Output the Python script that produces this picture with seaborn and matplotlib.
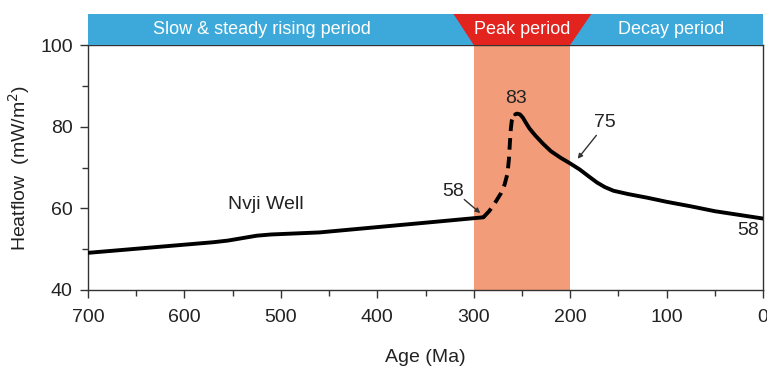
import matplotlib
matplotlib.use("Agg")
import matplotlib.pyplot as plt
import seaborn as sns
import pandas as pd
from matplotlib.patches import Rectangle, Polygon

# Data
early_age = [700, 640, 590, 570, 555, 540, 525, 510, 490, 460, 400, 340, 290]
early_hf = [49.1, 50.3, 51.3, 51.7, 52.1, 52.7, 53.3, 53.6, 53.8, 54.1, 55.4, 56.7, 57.8]
rise_age = [290, 284, 278, 272, 268, 265, 263.5, 262.5, 261.5, 260.5, 259, 257]
rise_hf = [57.8, 59.3, 61.3, 63.6, 65.8, 68.5, 72.0, 76.0, 79.5, 81.5, 82.6, 83.0]
decay_age = [257, 255, 252, 249, 246, 242, 236, 228, 220, 210, 200, 190, 180, 172, 164, 155,
             140, 120, 100, 75, 50, 25, 0]
decay_hf = [83.0, 83.2, 83.0, 82.2, 81.0, 79.5, 77.8, 75.8, 74.0, 72.4, 71.0, 69.5, 67.7, 66.3,
            65.2, 64.3, 63.5, 62.6, 61.6, 60.5, 59.3, 58.4, 57.5]

periods = ["Slow & steady rising period", "Peak period", "Decay period"]
peak_band = [300, 200]
xticks = [700, 600, 500, 400, 300, 200, 100, 0]
yticks = [40, 60, 80, 100]

sns.set_theme(style="ticks")
plt.rcParams['font.family'] = ['Liberation Sans', 'DejaVu Sans']

fig = plt.figure(figsize=(7.67, 3.67), dpi=100)
ax = fig.add_axes([88/767, 1-290/367, 675/767, 245/367])

df_e = pd.DataFrame({"age": early_age, "hf": early_hf})
df_r = pd.DataFrame({"age": rise_age, "hf": rise_hf})
df_d = pd.DataFrame({"age": decay_age, "hf": decay_hf})

ax.axvspan(peak_band[0], peak_band[1], color="#F29C79", lw=0, zorder=0)
line_kw = dict(color="black", lw=2.8, sort=False, zorder=3)
sns.lineplot(data=df_e, x="age", y="hf", ax=ax, **line_kw)
sns.lineplot(data=df_r, x="age", y="hf", ax=ax, dashes=False, linestyle=(0, (3.0, 1.8)), **line_kw)
sns.lineplot(data=df_d, x="age", y="hf", ax=ax, **line_kw)
for ln in ax.lines:
    ln.set_solid_capstyle("round")
    ln.set_solid_joinstyle("round")

ax.set_xlim(700, 0)
ax.set_ylim(40, 100)
ax.set_xticks(xticks)
ax.set_yticks(yticks)
ax.set_xticks([650, 550, 450, 350, 250, 150, 50], minor=True)
ax.set_yticks([50, 70, 90], minor=True)
ax.tick_params(axis="both", which="major", direction="out", length=6, width=1, color="#333333",
               labelsize=14, labelcolor="#222222", pad=5)
ax.tick_params(axis="x", which="major", pad=8)
ax.tick_params(axis="both", which="minor", direction="out", length=4, width=1, color="#333333")
for s in ax.spines.values():
    s.set_color("#333333")
    s.set_linewidth(1)
ax.set_xlabel("Age (Ma)", fontsize=14, color="#222222", labelpad=16)
ax.set_ylabel("Heatflow  (mW/m$^2$)", fontsize=14, color="#222222", labelpad=6)

# top banner
btop = 107.6
ax.add_patch(Rectangle((700, 100), -700, btop - 100, facecolor="#3DA9DA", edgecolor="none",
                       clip_on=False, zorder=4))
ax.add_patch(Polygon([[321, btop], [178, btop], [200, 100], [300, 100]], closed=True,
                     facecolor="#E2231E", edgecolor="none", clip_on=False, zorder=5))
ymid = 100 + (btop - 100) / 2
ax.text(520, ymid, periods[0], ha="center", va="center", color="white", fontsize=13, zorder=6, clip_on=False)
ax.text(250, ymid, periods[1], ha="center", va="center", color="white", fontsize=13, zorder=6, clip_on=False)
ax.text(95, ymid, periods[2], ha="center", va="center", color="white", fontsize=13, zorder=6, clip_on=False)

# annotations
ax.text(516, 61, "Nvji Well", ha="center", va="center", fontsize=14, color="#222222")
ax.text(321, 64, "58", ha="center", va="center", fontsize=14, color="#222222")
ax.annotate("", xy=(291, 58.4), xytext=(312, 62.6),
            arrowprops=dict(arrowstyle="-|>", color="#333333", lw=1, mutation_scale=7))
ax.text(256, 86.8, "83", ha="center", va="center", fontsize=14, color="#222222")
ax.text(164, 81.0, "75", ha="center", va="center", fontsize=14, color="#222222")
ax.annotate("", xy=(194, 71.6), xytext=(171, 78.4),
            arrowprops=dict(arrowstyle="-|>", color="#333333", lw=1, mutation_scale=7))
ax.text(15, 54.6, "58", ha="center", va="center", fontsize=14, color="#222222")

fig.savefig("out.png", dpi=100)
